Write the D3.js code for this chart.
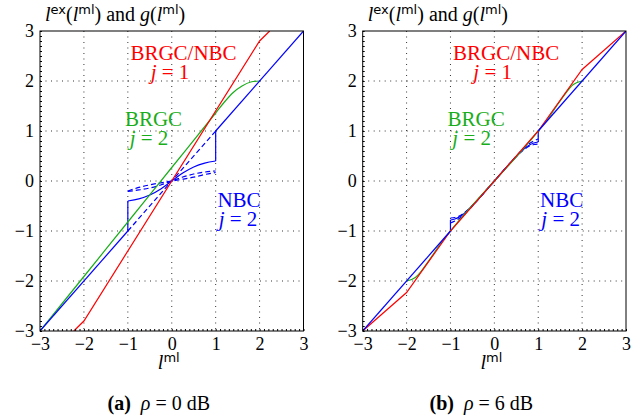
<!DOCTYPE html>
<html>
<head>
<meta charset="utf-8">
<script src="https://cdn.jsdelivr.net/npm/d3@7"></script>
<style>
  body { margin: 0; background: #fff; }
  text { font-family: "Liberation Serif", serif; }
</style>
</head>
<body>
<div id="chart"></div>
<script>
// figure size
const width = 631;
const height = 417;

// axis ticks shared by both panels
const tickVals = [-3, -2, -1, 0, 1, 2, 3];

// panel (a): rho = 0 dB
const redX0 = [-2.23, -2, 2, 2.23];
const redY0 = [-3, -2.8, 2.8, 3];
const greenX0 = [-3, -2, -1, 0, 1, 1.2, 1.4, 1.6, 1.8, 2];
const greenY0 = [-3, -1.91, -0.82, 0.27, 1.36, 1.58, 1.77, 1.9, 1.98, 2];
const lml0 = [-1, -0.75, -0.5, -0.25, 0, 0.25, 0.5, 0.75, 1];
const nbc0 = [-0.4, -0.358, -0.281, -0.158, 0, 0.158, 0.281, 0.358, 0.4];
const nbc0DashA = [-0.21, -0.179, -0.14, -0.079, 0, 0.079, 0.14, 0.179, 0.2];
const nbc0DashB = [-0.2, -0.129, -0.077, -0.036, 0, 0.036, 0.077, 0.129, 0.17];
const diagX0 = [-1, 1];
const diagY0 = [-1, 1];

// panel (b): rho = 6 dB
const redX6 = [-3, -2, -1, 1, 2, 3];
const redY6 = [-3, -2.23, -1, 1, 2.23, 3];
const greenX6 = [-2, -1.8, -1.5, -1.2, -1, 1, 1.2, 1.5, 1.8, 2];
const greenY6 = [-2, -1.93, -1.6, -1.22, -1, 1, 1.22, 1.6, 1.93, 2];
const lml6 = [-1, -0.9, -0.8, -0.7, -0.6, -0.5, -0.25, 0, 0.25, 0.5, 0.6, 0.7, 0.8, 0.9, 1];
const nbc6 = [-0.78, -0.76, -0.72, -0.66, -0.58, -0.49, -0.25, 0, 0.25, 0.49, 0.58, 0.66, 0.72, 0.76, 0.78];
const nbc6DashA = [-0.84, -0.8, -0.75, -0.68, -0.59, -0.5, -0.25, 0, 0.25, 0.5, 0.59, 0.68, 0.75, 0.8, 0.84];
const nbc6DashB = [-0.74, -0.73, -0.7, -0.645, -0.575, -0.49, -0.25, 0, 0.25, 0.49, 0.575, 0.645, 0.7, 0.73, 0.74];
const outerX = [-3, -1, 1, 3];   // identity part of NBC j=2 outside [-1,1]

const red = "#ff0000";
const green = "#1aad1a";
const blue = "#0000ff";

const svg = d3.select("#chart")
  .append("svg")
  .attr("width", width)
  .attr("height", height);

const zip = (xs, ys) => xs.map((x, i) => [x, ys[i]]);

// writes math-ish text: parts are [string, style] with style in
// "i" (italic), "b" (bold), "s" (sans superscript) or "" (roman)
function mathText(el, parts, supSize) {
  let raised = false;
  parts.forEach(([s, st]) => {
    const ts = el.append("tspan").text(s);
    if (st === "s") {
      ts.attr("font-size", supSize).attr("font-family", "DejaVu Sans");
      if (!raised) ts.attr("dy", -7);
      raised = true;
    } else {
      if (raised) ts.attr("dy", 7);
      raised = false;
      if (st === "i") ts.attr("font-style", "italic");
      if (st === "b") ts.attr("font-weight", "bold");
    }
  });
}

function panel(id, left, right, p) {
  const top = 31, bottom = 331;
  const x = d3.scaleLinear().domain([-3, 3]).range([left, right]);
  const y = d3.scaleLinear().domain([-3, 3]).range([bottom, top]);
  const g = svg.append("g");

  g.append("clipPath").attr("id", "clip" + id)
    .append("rect")
    .attr("x", left).attr("y", top)
    .attr("width", right - left).attr("height", bottom - top);

  // dotted grid at the integer ticks
  const inner = tickVals.slice(1, -1);
  g.append("g").selectAll("line.gx").data(inner).enter().append("line")
    .attr("x1", d => x(d)).attr("x2", d => x(d))
    .attr("y1", top).attr("y2", bottom)
    .attr("stroke", "#000").attr("stroke-width", 0.8)
    .attr("stroke-dasharray", "1,4.5");
  g.append("g").selectAll("line.gy").data(inner).enter().append("line")
    .attr("y1", d => y(d)).attr("y2", d => y(d))
    .attr("x1", left).attr("x2", right)
    .attr("stroke", "#000").attr("stroke-width", 0.8)
    .attr("stroke-dasharray", "1,4.5");

  // curves
  const line = d3.line().x(d => x(d[0])).y(d => y(d[1]));
  const smooth = d3.line().x(d => x(d[0])).y(d => y(d[1])).curve(d3.curveMonotoneX);
  const plot = g.append("g").attr("clip-path", `url(#clip${id})`);

  const draw = (pts, gen, color, dash) => plot.append("path")
    .attr("d", gen(pts))
    .attr("fill", "none")
    .attr("stroke", color)
    .attr("stroke-width", 1.2)
    .attr("stroke-dasharray", dash || null);

  // NBC j=2 (dashed variants first)
  if (p.diagX) draw(zip(p.diagX, p.diagY), line, blue, "5,3");
  draw(zip(p.lml, p.dashA), smooth, blue, "5,3");
  draw(zip(p.lml, p.dashB), smooth, blue, "5,3");
  const n = p.lml.length;
  draw([[outerX[1], outerX[1]], [p.lml[0], p.nbc[0]]], line, blue);
  draw(zip(p.lml, p.nbc), smooth, blue);
  draw([[p.lml[n - 1], p.nbc[n - 1]], [outerX[2], outerX[2]]], line, blue);

  // BRGC j=2 and BRGC/NBC j=1
  draw(zip(p.greenX, p.greenY), smooth, green);
  draw(zip(p.redX, p.redY), line, red);
  // identity drawn on top
  draw([[outerX[0], outerX[0]], [outerX[1], outerX[1]]], line, blue);
  draw([[outerX[2], outerX[2]], [outerX[3], outerX[3]]], line, blue);

  // minor ticks, inward, on left and bottom
  const minor = d3.range(-30, 31).map(v => v / 10);
  g.append("g")
    .attr("transform", `translate(${left},0)`)
    .call(d3.axisRight(y).tickValues(minor).tickSize(2).tickFormat(""))
    .call(a => a.select(".domain").remove());
  g.append("g")
    .attr("transform", `translate(0,${bottom})`)
    .call(d3.axisTop(x).tickValues(minor).tickSize(2).tickFormat(""))
    .call(a => a.select(".domain").remove());

  // tick labels
  const fmt = d => d < 0 ? "\u2212" + Math.abs(d) : String(d);
  g.append("g")
    .attr("transform", `translate(${left},0)`)
    .call(d3.axisLeft(y).tickValues(tickVals).tickSize(0).tickPadding(6).tickFormat(fmt))
    .call(a => a.select(".domain").remove())
    .selectAll("text").attr("font-size", "18px").attr("font-family", "Liberation Serif").attr("fill", "#000");
  g.append("g")
    .attr("transform", `translate(0,${bottom})`)
    .call(d3.axisBottom(x).tickValues(tickVals).tickSize(0).tickPadding(6).tickFormat(fmt))
    .call(a => a.select(".domain").remove())
    .selectAll("text").attr("font-size", "18px").attr("font-family", "Liberation Serif").attr("fill", "#000");

  // frame
  g.append("rect")
    .attr("x", left).attr("y", top)
    .attr("width", right - left).attr("height", bottom - top)
    .attr("fill", "none").attr("stroke", "#000").attr("stroke-width", 1);

  // y title: l^ex(l^ml) and g(l^ml)
  const t = g.append("text").attr("x", left + 5).attr("y", 21).attr("font-size", "20px");
  mathText(t, [["l", "i"], ["ex", "s"], ["(", ""], ["l", "i"], ["ml", "s"],
    [") and ", ""], ["g", "i"], ["(", ""], ["l", "i"], ["ml", "s"], [")", ""]], "13px");

  // x title
  const xt = g.append("text").attr("x", (left + right) / 2 - 3).attr("y", 369)
    .attr("text-anchor", "middle").attr("font-size", "20px");
  mathText(xt, [["l", "i"], ["ml", "s"]], "13px");

  // caption
  const cap = g.append("text").attr("x", (left + right) / 2 - 13).attr("y", 410)
    .attr("text-anchor", "middle").attr("font-size", "20px");
  mathText(cap, [[p.tag, "b"], ["\u2002", ""], ["\u03c1", "i"], [" = " + p.snr + " dB", ""]], "13px");

  // series labels
  const label = (txt, num, cx, jx, y1, color) => {
    g.append("text").attr("x", left + cx).attr("y", y1).attr("text-anchor", "middle")
      .attr("font-size", "21px").attr("fill", color).text(txt);
    const j = g.append("text").attr("x", left + jx).attr("y", y1 + 19).attr("text-anchor", "middle")
      .attr("font-size", "21px").attr("fill", color);
    mathText(j, [["j", "i"], [" = " + num, ""]], "13px");
  };
  label("BRGC/NBC", 1, 143.5, 130, 60, red);
  label("BRGC", 2, 113.5, 109, 126, green);
  label("NBC", 2, 199, 198, 207, blue);
}

panel("a", 40, 303.5, {
  redX: redX0, redY: redY0, greenX: greenX0, greenY: greenY0,
  lml: lml0, nbc: nbc0, dashA: nbc0DashA, dashB: nbc0DashB,
  diagX: diagX0, diagY: diagY0,
  tag: "(a)", snr: 0
});
panel("b", 362.7, 626, {
  redX: redX6, redY: redY6, greenX: greenX6, greenY: greenY6,
  lml: lml6, nbc: nbc6, dashA: nbc6DashA, dashB: nbc6DashB,
  tag: "(b)", snr: 6
});
</script>
</body>
</html>
